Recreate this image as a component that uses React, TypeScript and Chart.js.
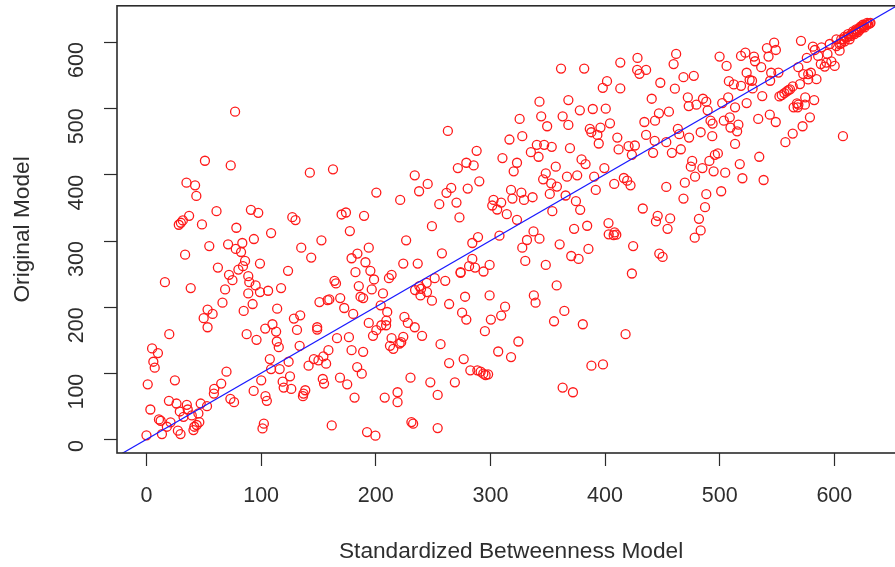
import React, { useEffect, useRef } from "react";
import { Chart, registerables } from "chart.js";

Chart.register(...registerables);

type Pair = [number, number];

const xTicks = [0, 100, 200, 300, 400, 500, 600];
const yTicks = [0, 100, 200, 300, 400, 500, 600];
const xTitle = "Standardized Betweenness Model";
const yTitle = "Original Model";
const identityLine: Pair[] = [[-30, -29], [670, 670]];

const upperLeft: Pair[] = [
  [77.3,495],[51,421],[73.5,414],[142.5,403],[162.7,408],[34.9,388],[42.4,384],[43.5,368],[200.5,373],[61.1,345],
  [91.1,347],[97.5,342.5],[127.2,336],[130,331.5],[170.2,340],[174,343],[189.8,338],[37.2,338],[31.7,331],[28.2,324.5],
  [30,327.5],[48.4,325],[78.4,320],[108.7,312],[177.4,315],
];

const lowerLeft: Pair[] = [
  [93.7,303],[152.6,301],[54.8,292.4],[71.2,295],[83.6,297],[77.9,288],[82.5,283.4],[135,290],[193.9,290],[33.7,279.4],
  [143.7,275],[184,281],[178.9,274],[86,270],[191,268],[99,266],[62.3,260],[84.2,262],[80.2,257],[123.5,255],
  [195.3,255],[182.3,253],[72,249],[88.8,247],[75,241],[198.5,242],[16.1,238],[89.7,238],[164,240],[165.3,236],
  [95.2,233],[185.2,232],[38.6,229],[68.6,227],[106.1,225],[99,223],[117.4,229],[88.8,221],[196.5,227],[186.7,216],
  [189,214],[169,214],[159.5,212],[158,211],[150.9,208],[66.3,207],[92.6,205],[172.5,199],[114,198],[84.8,194.6],
  [180.3,190],[53.3,196.6],[57.7,190],[49.9,183.6],[53.3,170],[128.6,183],[134.1,188],[193.9,176.5],[109.9,174.5],[103.6,168],
  [113.1,163.5],[131.3,166],[148.9,170],[148.9,166.5],[19.9,159.5],[87.4,159.5],[96,151],[113.7,148.5],[115.4,140],[133.6,142],
  [166.2,153.5],[176.6,155],[197.6,157],[200.5,165.5],[4.9,138],[10,131],[6,118],[7.2,109],[158.7,135.4],[178.9,135.4],
  [189,133],[107.6,122],[146,122],[150,120],[154.3,126],[156.7,115],[124,118],[141.4,112],[116.2,107],[108.7,107],
  [183.8,110],[187.8,100],[69.8,103],[125.2,96],[153.8,92],[154.9,85],[168.8,94],[175.1,84],[100.1,90],[118.8,88],
  [119.7,79],[126.3,77],[1.1,84],[24.8,90],[65.2,85],[59.1,77],[58.8,70],[93.5,74],[103.8,66],[105,59],
  [138.5,75],[137,70],[136.5,66],[181.5,64],[73.2,62],[76.4,57],[19.6,59],[26.2,55],[35.2,53],[47.3,55],
  [52.8,51],[3.4,46],[29.1,43],[36,46],[45.3,40],[39.5,37],[32.3,35],[10.9,31],[12.4,29],[21,26.6],
  [17.8,20],[46.1,27],[43.8,22.6],[41.8,20],[41,15],[27.4,14],[29.7,9],[13.5,9],[0,7],[102.4,24.6],
  [101.2,17.5],[161.6,22],[192.4,12],[199.7,6.5],
];

const upperMiddle: Pair[] = [
  [361.6,560],[381.8,560],[413.3,569],[428.3,576],[428,558],[430,552],[435.8,558],[401.7,541],[398,531],[413.3,530],
  [342.8,510],[368,512.5],[378,497],[389.3,499],[400.6,499.5],[325.5,484],[344.3,488],[363,488],[368,475],[349.5,473],
  [404.3,477.4],[396,471],[386.7,469],[388,464],[393.3,460],[434.3,479.4],[435.8,460],[410.7,456],[394.5,447],[262.9,466],
  [316.6,453],[327.8,458],[340.5,445],[346.9,445],[353.5,442],[369.4,440],[411.8,438],[420.5,443],[426,444],[423.4,430],
  [335.3,434],[342,427],[288,436],[310.5,425],[279,418],[271.6,410],[285.4,414],[323.2,418],[320.3,405],[379.5,423],
  [383,416],[357,412],[399.4,410],[348.3,402],[346,393],[366.8,397],[375.7,399],[390.5,397],[234,399],[245.3,386],
  [237.8,375],[290.3,390],[353,387],[358,382],[416.4,395],[419.3,391],[422.2,384],[408,386],[391.9,377],[221.3,362],
  [265.8,380],[261.7,372.6],[280.2,379],[318,377],[327,373],[351.8,371],[365.6,368.6],[319.2,364],[329.3,362],[336.8,366],
  [374.6,360],[255.4,355.5],[270.4,358],[302.7,362],[301.6,353.5],[309.4,358],[305.9,347.5],[378.3,347],[354,345],[314.3,340.5],
  [323.2,332],[273,335.5],[249,322.4],[432.9,349],[337.6,314.4],[373,318.4],[384.4,323],[403,327],[408.3,313],
];

const lowerMiddle: Pair[] = [
  [226.5,301],[257.7,281.4],[224,266],[236.6,266],[289.2,306],[284.2,297],[307.9,308],[284.2,273],[281.4,262],[286.6,260],
  [299.3,264],[294,254],[274,253],[274,252],[331.9,301.5],[327.8,290],[342.8,303.5],[360.4,295],[330.4,270],[348.3,264],
  [370.5,277.4],[376.9,273],[385.5,288],[403.2,310],[407.5,309],[409.8,309.5],[424.5,292.4],[423.4,251],[357.8,233],[337.9,218],
  [339.4,207],[364.5,194.6],[355.5,179],[380.6,174.5],[417.9,159.5],[388.1,112],[398.2,114],[363,79],[372,72],[324.4,148.5],
  [312.8,201],[309.4,187.6],[300.4,181.6],[295.2,164],[299.3,218],[277.9,216],[264,205],[275.3,192],[279,181.6],[306.8,133.4],
  [318,125],[276.7,122],[264,116],[256.5,144.4],[240.4,157],[234,170],[228,176.5],[225,185.6],[224,155.5],[213.8,153.5],
  [222.2,147.5],[220.8,145.5],[212.4,142],[215.3,137.4],[211.5,244],[213.8,249],[206.3,221],[260.6,240],[251.4,244],[244.4,237],
  [238,232],[234.3,226],[239.5,228],[239,218],[244.7,223],[249,210],[204.3,203],[210,193],[209.2,180],[209,173],
  [204.9,173],[230.3,94],[247.6,87],[269,87],[254,68],[219,72],[207.8,64],[219,57],[231.1,27],[232.6,24.6],
  [254,18],[282.5,105],[288.6,105],[291.5,103],[293.8,100],[298,99],[295.8,98],
];

const upperRight: Pair[] = [
  [462,582],[459.8,566.7],[448.2,538.6],[468.4,547],[477.4,549],[460.9,529.6],[440.7,514.5],[472.2,516.5],[473,503.5],[479.7,505.5],
  [485.4,514.5],[488.3,510],[489.5,497],[447,492.5],[455.7,495],[443.6,481.4],[463.5,469],[464.7,461],[473.3,456],[483.4,464],
  [493.5,458],[492,481.4],[493.8,477],[443.3,451],[453.4,449],[441.9,433],[458.3,433],[466.1,438.3],[476,420.7],[474.8,412],
  [484.9,410],[491,420.7],[495.8,430],[498.4,432],[494.7,405],[478.5,397],[469.6,388],[453.4,381.6],[504.8,403],[488.3,370.6],
  [501.3,375],[468.4,364],[487.2,351],[445.9,338],[444.4,329.5],[456.8,334],[481.9,333.5],[454.5,318.4],[483.4,316],[478.2,305],
  [447.3,281],[450.2,276],[499.9,578],[506,564],[518.6,579],[522.4,584],[529.9,578],[530.8,571],[536.2,562],[523.5,553.7],
  [508,541],[512.3,536],[518.6,534],[526.1,543],[528.2,541.6],[528.7,530],[541.2,590.8],[547.5,599],[549,588],[542.6,578],
  [544.9,553.7],[551.2,554],[544,541.6],[537.1,518.5],[507.4,516.5],[502.2,508],[523.5,508],[513.4,501.5],[508.8,486.4],[503.6,481.4],
  [533.6,484],[543.7,490.5],[548.9,479.4],[578.7,486.4],[572.3,473],[563.7,462],[557.3,449],[607.5,458],[516.3,475.4],[509.4,471],
  [515.2,465.4],[513.4,446.3],[534.5,427],[517.5,416],[519.8,394.6],[538.3,392],
];

const topCluster: Pair[] = [
  [570.9,601.8],[581.3,593],[583,588],[576,576],[568.6,562],[572.9,551.6],[577.2,551.6],[579.5,553.7],[577.2,543.6],[584.4,544],
  [570,536.6],[574.6,516.5],[582.4,512.5],[574.3,505.5],[564.5,501.5],[568.6,505.5],[567.4,507.5],[568,501.5],[552.1,518],[554.1,520],
  [556.4,523],[558.5,525.6],[561.3,528.6],[563.7,533],[559.9,527.6],[588.8,592],[585.9,579],[588.2,566.7],[591.6,563],[594,582],
  [597.4,570.7],[600.3,564],[593.1,569],[596,597],[601.8,604],[604.6,597],[606,604],[609,608],[611.9,612],[614.2,609],
  [616.2,616],[619,619],[620.5,615],[622.8,623],[624.8,626],[626.3,622],[628.6,629],[630.9,628],[627.7,626],[617.6,612],
  [622,618],[606,598],[609,601],[613.3,604],[601.8,594],[604.6,587],[608,604],[610.5,607],[612.5,609],[615,612],
  [617,614],[618.5,616],[620,618],[621.5,620],[623.5,621],[625,623],[626,625],[628,626],[629.5,627],[631.5,629],
];

const allPoints: Pair[] = [...upperLeft, ...lowerLeft, ...upperMiddle, ...lowerMiddle, ...upperRight, ...topCluster];

const toXY = (pairs: Pair[]) => pairs.map(([x, y]) => ({ x, y }));

const INK = "#2b2b2b";
const TEXT = "#2e2e2e";
const FONT = '"Liberation Sans", Arial, sans-serif';

const framePlugin = {
  id: "frame",
  afterDatasetsDraw(chart: Chart) {
    const { ctx, chartArea: a } = chart;
    ctx.save();
    ctx.strokeStyle = INK;
    ctx.lineWidth = 1.6;
    ctx.strokeRect(a.left, a.top, a.right - a.left, a.bottom - a.top);
    ctx.restore();
  },
};

export default function App() {
  const ref = useRef<HTMLCanvasElement>(null);

  useEffect(() => {
    document.body.style.margin = "0";
    document.body.style.overflow = "hidden";
    const chart = new Chart(ref.current!, {
      type: "scatter",
      data: {
        datasets: [
          {
            label: "Identity",
            data: toXY(identityLine),
            showLine: true,
            borderColor: "#1a1aff",
            borderWidth: 1.2,
            pointRadius: 0,
            order: 0,
          },
          {
            label: "Nodes",
            data: toXY(allPoints),
            showLine: false,
            pointStyle: "circle",
            pointRadius: 4.5,
            pointBorderWidth: 1.3,
            pointBackgroundColor: "rgba(0,0,0,0)",
            pointBorderColor: "#ff1a1a",
            order: 1,
          },
        ],
      },
      options: {
        responsive: false,
        animation: false,
        layout: { padding: { top: 5, right: 0, left: 0, bottom: 0 } },
        plugins: { legend: { display: false }, tooltip: { enabled: false } },
        scales: {
          x: {
            type: "linear",
            min: -25.7,
            max: 661.8,
            afterBuildTicks: (s: any) => { s.ticks = xTicks.map((value) => ({ value })); },
            afterFit: (s: any) => { s.height = 114; s.paddingLeft = 0; s.paddingRight = 0; },
            grid: { drawOnChartArea: false, drawTicks: true, tickLength: 13, color: INK, tickWidth: 1.2 },
            border: { display: false },
            ticks: { color: TEXT, font: { family: FONT, size: 21.5 }, padding: 17, maxRotation: 0, autoSkip: false },
            title: { display: true, text: xTitle, color: TEXT, font: { family: FONT, size: 22.7 }, padding: { top: 0, bottom: 2 } },
          },
          y: {
            type: "linear",
            min: -19.6,
            max: 654.6,
            afterBuildTicks: (s: any) => { s.ticks = yTicks.map((value) => ({ value })); },
            afterFit: (s: any) => { s.width = 117; s.paddingTop = 0; s.paddingBottom = 0; },
            grid: { drawOnChartArea: false, drawTicks: true, tickLength: 13, color: INK, tickWidth: 1.2 },
            border: { display: false },
            ticks: { color: TEXT, font: { family: FONT, size: 21.5 }, padding: 27, maxRotation: 90, minRotation: 90, autoSkip: false, align: "center" },
            title: { display: true, text: yTitle, color: TEXT, font: { family: FONT, size: 22.7 }, padding: { top: 9, bottom: 0 } },
          },
        },
      },
      plugins: [framePlugin],
    } as any);
    return () => chart.destroy();
  }, []);

  return (
    <div style={{ position: "fixed", left: 0, top: 0, width: 895, height: 567, overflow: "hidden", background: "#fff" }}>
      <canvas ref={ref} width={911} height={567} style={{ display: "block" }} />
    </div>
  );
}
